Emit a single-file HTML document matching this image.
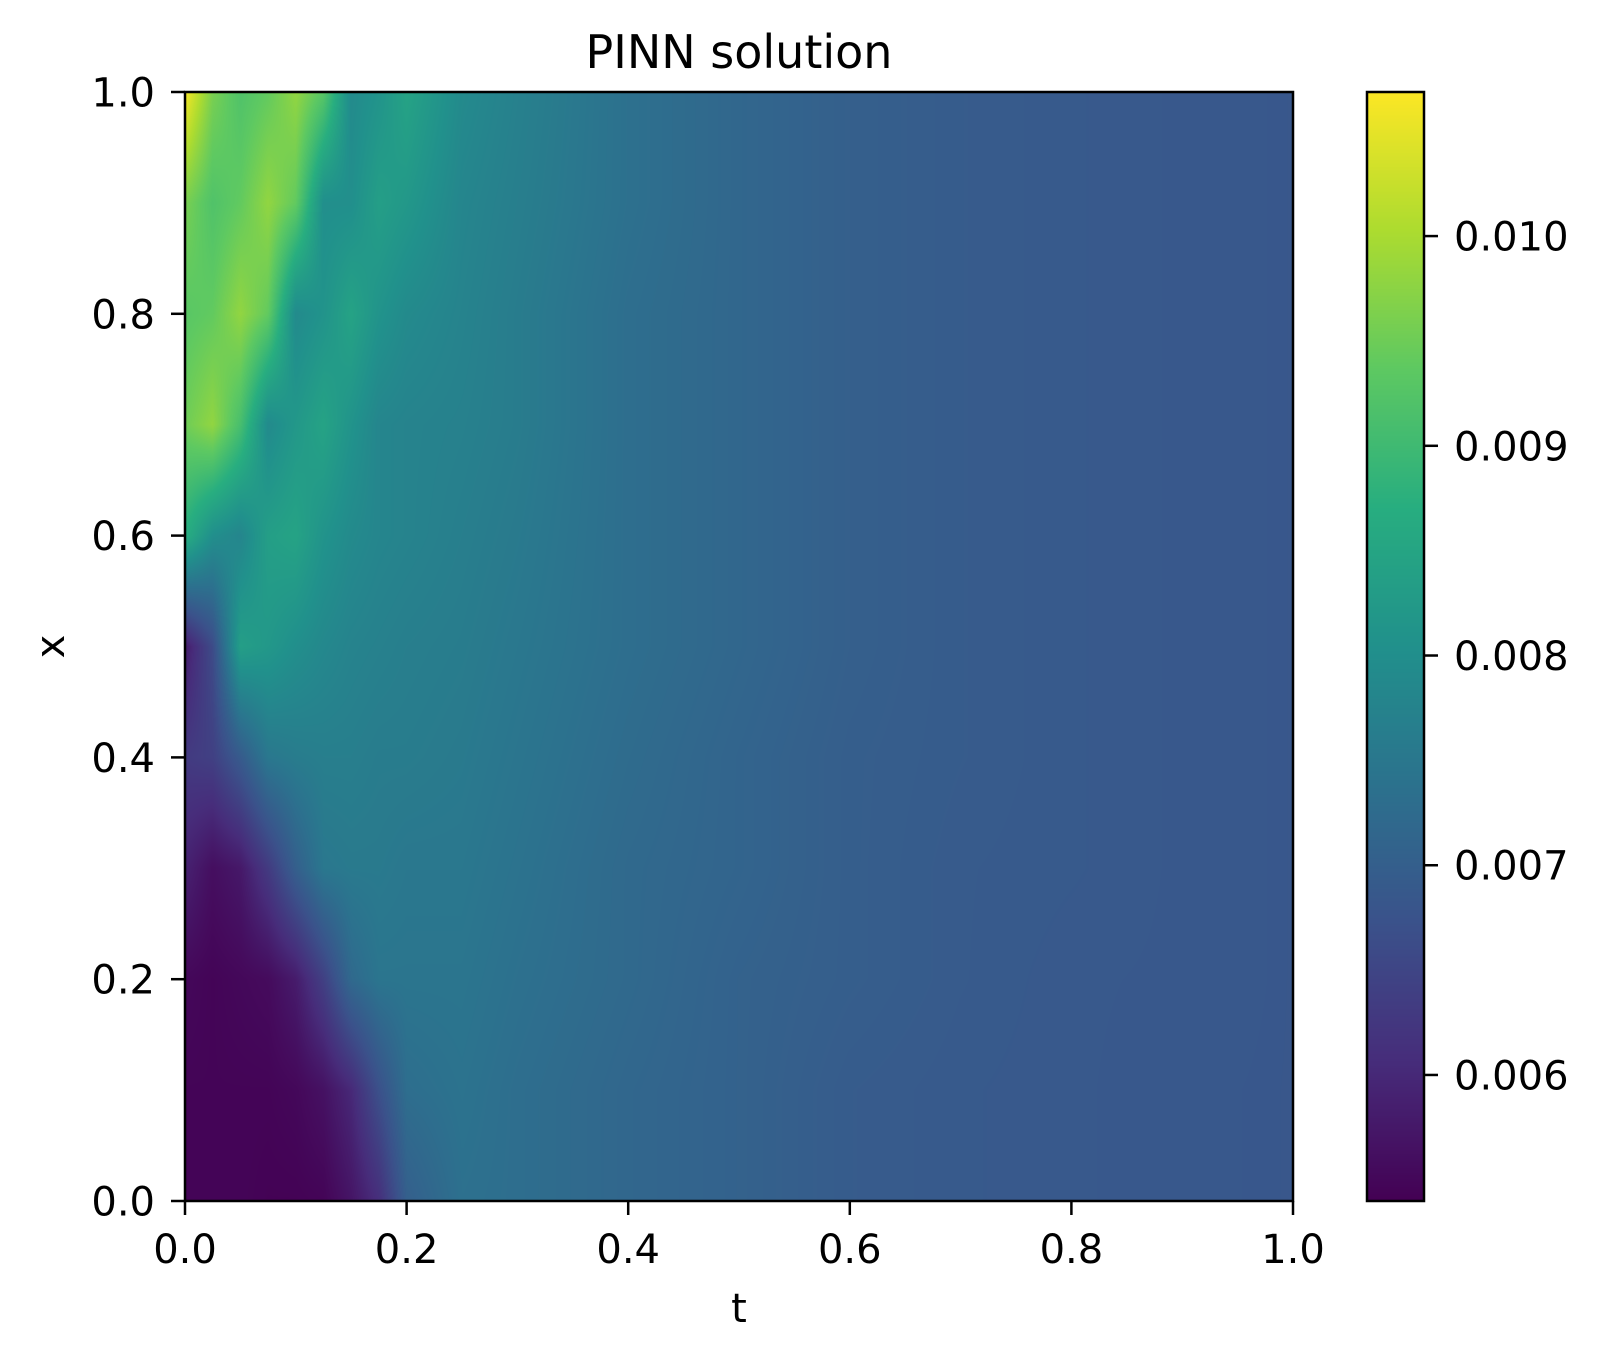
<!DOCTYPE html>
<html><head><meta charset="utf-8"><style>
html,body{margin:0;padding:0;background:#fff;}
#wrap{position:relative;width:1601px;height:1361px;overflow:hidden;}
canvas,svg{position:absolute;left:0;top:0;}
text{font-family:"DejaVu Sans","Liberation Sans",sans-serif;fill:#000;}
</style></head><body>
<div id="wrap">
<canvas id="heat" width="1601" height="1361"></canvas>
<svg id="ov" width="1601" height="1361"></svg>
</div>
<script>
// data grid: t columns, x rows (values in units of 1e-3)
const tGrid = [0,0.025,0.05,0.075,0.1,0.125,0.15,0.175,0.2,0.25,0.3,0.4,0.5,0.6,0.7,0.8,0.9,1.0];
const xGrid = [1.0,0.9,0.8,0.7,0.6,0.5,0.4,0.3,0.2,0.1,0.0];
const uRow10 = [10.65,9.6,9.2,9.4,9.8,9.3,7.9,8.1,8.45,7.9,7.7,7.35,7.15,7.0,6.92,6.88,6.85,6.83];
const uRow09 = [9.6,9.2,9.4,9.8,9.4,8.0,8.0,8.35,8.2,7.8,7.65,7.35,7.15,7.0,6.92,6.88,6.85,6.83];
const uRow08 = [9.3,9.4,9.8,9.4,7.9,8.1,8.45,8.1,7.9,7.75,7.6,7.3,7.15,7.0,6.92,6.88,6.85,6.83];
const uRow07 = [9.5,9.8,9.1,7.9,8.2,8.45,8.1,7.8,7.75,7.7,7.6,7.3,7.15,7.0,6.92,6.88,6.85,6.83];
const uRow06 = [8.7,8.0,7.8,8.35,8.45,8.1,7.9,7.8,7.75,7.65,7.55,7.3,7.15,7.0,6.92,6.88,6.85,6.83];
const uRow05 = [5.8,6.6,8.35,8.2,8.0,7.85,7.75,7.7,7.65,7.6,7.5,7.3,7.15,7.0,6.92,6.88,6.85,6.83];
const uRow04 = [6.3,6.4,6.9,7.5,7.6,7.65,7.65,7.6,7.6,7.55,7.45,7.25,7.1,6.97,6.92,6.88,6.85,6.83];
const uRow03 = [5.9,5.6,5.75,6.3,7.0,7.5,7.55,7.55,7.5,7.5,7.4,7.2,7.1,6.97,6.9,6.88,6.85,6.83];
const uRow02 = [5.5,5.45,5.5,5.55,5.8,6.4,7.2,7.45,7.45,7.45,7.35,7.2,7.05,6.97,6.9,6.86,6.85,6.83];
const uRow01 = [5.45,5.45,5.45,5.45,5.5,5.65,6.0,6.7,7.3,7.4,7.3,7.15,7.05,6.92,6.88,6.86,6.84,6.83];
const uRow00 = [5.45,5.45,5.45,5.42,5.42,5.45,5.7,6.1,7.0,7.35,7.3,7.15,7.05,6.92,6.88,6.86,6.84,6.83];
const xTicks = [0,0.2,0.4,0.6,0.8,1.0];
const xTickLabels = ["0.0","0.2","0.4","0.6","0.8","1.0"];
const yTicks = [0,0.2,0.4,0.6,0.8,1.0];
const yTickLabels = ["0.0","0.2","0.4","0.6","0.8","1.0"];
const cbTicks = [0.006,0.007,0.008,0.009,0.010];
const cbTickLabels = ["0.006","0.007","0.008","0.009","0.010"];
const vmin = 0.005399, vmax = 0.010687;

const rows = [uRow10,uRow09,uRow08,uRow07,uRow06,uRow05,uRow04,uRow03,uRow02,uRow01,uRow00];
const P = {l:185,r:1293,t:92,b:1201};
const CB = {l:1367,r:1424,t:92,b:1201};
const sx = t => P.l + t*(P.r-P.l);
const sy = x => P.b - x*(P.b-P.t);
const cy = v => CB.b - (v-vmin)/(vmax-vmin)*(CB.b-CB.t);

const stops=[[68,1,84],[71,45,123],[59,82,139],[44,114,142],[33,145,140],[40,174,128],[94,201,98],[173,220,48],[253,231,37]];
function viridis(f){f=Math.max(0,Math.min(1,f));const p=f*8,i=Math.min(7,Math.floor(p)),r=p-i;
 const a=stops[i],b=stops[i+1];return [a[0]+(b[0]-a[0])*r,a[1]+(b[1]-a[1])*r,a[2]+(b[2]-a[2])*r];}
function seg(arr,v){
 for(let i=0;i<arr.length-1;i++){if(v<=arr[i+1])return [i,(v-arr[i])/(arr[i+1]-arr[i])];}
 return [arr.length-2,1];}
const xAsc = xGrid.slice().reverse();
const ctx=document.getElementById('heat').getContext('2d');
const W=P.r-P.l,H=P.b-P.t;
const img=ctx.createImageData(W,H);
for(let py=0;py<H;py++){
 const xv=1-(py+0.5)/H; const [xi,xf]=seg(xAsc,xv);
 const rLo=rows[rows.length-1-xi], rHi=rows[rows.length-2-xi];
 for(let px=0;px<W;px++){
  const tv=(px+0.5)/W; const [ti,tf]=seg(tGrid,tv);
  const a=rLo[ti]*(1-tf)+rLo[ti+1]*tf, b=rHi[ti]*(1-tf)+rHi[ti+1]*tf;
  const v=(a*(1-xf)+b*xf)*1e-3;
  const c=viridis((v-vmin)/(vmax-vmin)); const k=(py*W+px)*4;
  img.data[k]=c[0];img.data[k+1]=c[1];img.data[k+2]=c[2];img.data[k+3]=255;}
}
ctx.putImageData(img,P.l,P.t);
const ch=CB.b-CB.t;
for(let i=0;i<ch;i++){const c=viridis(1-(i+0.5)/ch);ctx.fillStyle=`rgb(${c[0]|0},${c[1]|0},${c[2]|0})`;ctx.fillRect(CB.l,CB.t+i,CB.r-CB.l,1);}

const svg=document.getElementById('ov');const NS='http://www.w3.org/2000/svg';
function mk(tag,attrs,txt){const e=document.createElementNS(NS,tag);for(const k in attrs)e.setAttribute(k,attrs[k]);if(txt!=null)e.textContent=txt;svg.appendChild(e);return e;}
let e;
e=mk('rect',{x:P.l,y:P.t,width:W,height:H,fill:'none',stroke:'#000','stroke-width':2.5});


e=mk('rect',{x:CB.l,y:CB.t,width:CB.r-CB.l,height:ch,fill:'none',stroke:'#000','stroke-width':2.5});


xTicks.forEach((t,i)=>{
 e=mk('line',{x1:sx(t),x2:sx(t),y1:P.b,y2:P.b+14,stroke:'#000','stroke-width':2.5});
 
 
 e=mk('text',{x:sx(t),y:1263,'font-size':40,'text-anchor':'middle'},xTickLabels[i]);
 
 
});
yTicks.forEach((v,i)=>{
 e=mk('line',{x1:P.l-14,x2:P.l,y1:sy(v),y2:sy(v),stroke:'#000','stroke-width':2.5});
 
 
 e=mk('text',{x:155,y:sy(v)+14.5,'font-size':40,'text-anchor':'end'},yTickLabels[i]);
 
 
});
cbTicks.forEach((v,i)=>{
 e=mk('line',{x1:CB.r,x2:CB.r+14,y1:cy(v),y2:cy(v),stroke:'#000','stroke-width':2.5});
 
 
 e=mk('text',{x:1454,y:cy(v)+14.5,'font-size':40},cbTickLabels[i]);
 
 
});
e=mk('text',{x:(P.l+P.r)/2,y:68,'font-size':46,'text-anchor':'middle'},'PINN solution');


e=mk('text',{x:(P.l+P.r)/2,y:1322,'font-size':40,'text-anchor':'middle'},'t');


e=mk('text',{x:64,y:(P.t+P.b)/2,'font-size':40,'text-anchor':'middle',transform:`rotate(-90 64 ${(P.t+P.b)/2})`},'x');


</script>
</body></html>
